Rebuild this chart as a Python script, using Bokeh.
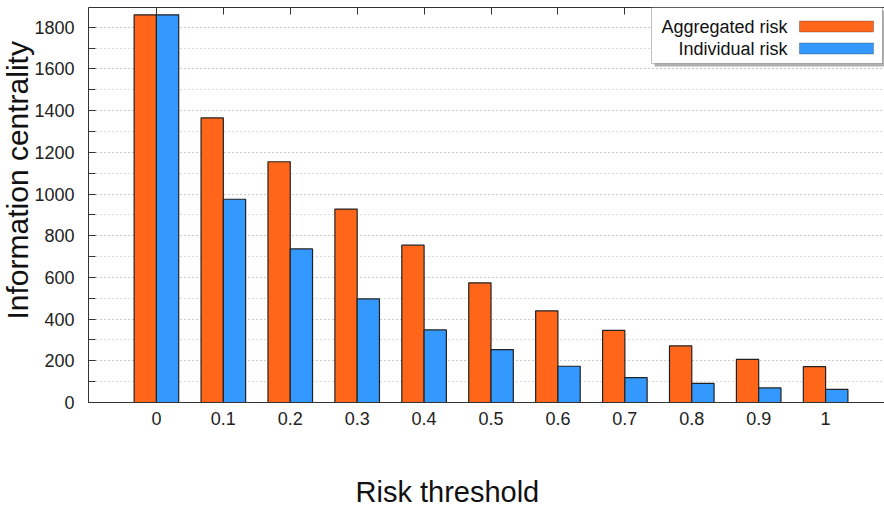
from bokeh.plotting import figure
from bokeh.models import (Range1d, LinearAxis, FixedTicker, SingleIntervalTicker,
                          NumeralTickFormatter, BoxAnnotation, Label, ColumnDataSource, Grid,
                          CustomLabelingPolicy, Title)
from bokeh.transform import dodge
from bokeh.embed import file_html
from bokeh.resources import INLINE

# ---- data ----
thresholds = [0, 0.1, 0.2, 0.3, 0.4, 0.5, 0.6, 0.7, 0.8, 0.9, 1]
aggregated_risk = [1860, 1365, 1155, 928, 755, 574, 440, 346, 272, 207, 172]
individual_risk = [1860, 975, 737, 497, 348, 254, 174, 119, 92, 70, 63]
series_names = ["Aggregated risk", "Individual risk"]
x_title = "Risk threshold"
y_title = "Information centrality"

ORANGE = "#FF661A"
BLUE = "#3399FF"
EDGE = "#222222"
FONT = "Liberation Sans"

X0, X1 = -0.1015, 1.088
Y0, Y1 = 0, 1895

source = ColumnDataSource(dict(x=thresholds, agg=aggregated_risk, ind=individual_risk))

p = figure(width=884, height=508, output_backend="svg", toolbar_location=None,
           x_range=Range1d(X0, X1), y_range=Range1d(Y0, Y1),
           x_axis_type=None, y_axis_type=None,
           min_border_left=87, min_border_right=0, min_border_top=7, min_border_bottom=106)
p.outline_line_color = None
p.background_fill_color = "white"
p.border_fill_color = "white"

bw = 0.0333
p.vbar(x=dodge('x', -bw / 2), top='agg', width=bw, bottom=0, source=source,
       fill_color=ORANGE, line_color=EDGE, line_width=1.2)
p.vbar(x=dodge('x', bw / 2), top='ind', width=bw, bottom=0, source=source,
       fill_color=BLUE, line_color=EDGE, line_width=1.2)

no_labels = CustomLabelingPolicy(code="return new Set()")

# ---- axes ----
yticker = SingleIntervalTicker(interval=200, num_minor_ticks=2)
yaxis = LinearAxis(ticker=yticker, major_tick_in=7, major_tick_out=0,
                   minor_tick_in=7, minor_tick_out=0, major_label_standoff=14,
                   axis_line_color="#333333", major_tick_line_color="#333333",
                   minor_tick_line_color="#333333",
                   major_label_text_font=FONT, major_label_text_font_size="18px",
                   major_label_text_color="#222222")
p.add_layout(yaxis, 'left')
p.add_layout(Title(text=y_title, align='left', offset=83, standoff=-4,
                   text_font=FONT, text_font_size="30px", text_font_style="normal",
                   text_color="#111111"), 'left')

xaxis = LinearAxis(ticker=FixedTicker(ticks=thresholds, minor_ticks=[]),
                   formatter=NumeralTickFormatter(format="0.[0]"),
                   major_tick_in=0, major_tick_out=0, minor_tick_in=0, minor_tick_out=0,
                   major_label_standoff=9, axis_line_color="#333333",
                   major_label_text_font=FONT, major_label_text_font_size="18px",
                   major_label_text_color="#222222")
p.add_layout(xaxis, 'below')

# invisible spacer axis that pushes the x title down to the bottom edge
spacer = LinearAxis(ticker=FixedTicker(ticks=thresholds[:1], minor_ticks=[]),
                    axis_line_color=None, major_tick_line_color=None,
                    minor_tick_line_color=None, major_tick_in=0, major_tick_out=42,
                    minor_tick_in=0, minor_tick_out=0, major_label_standoff=0,
                    major_label_policy=no_labels, major_label_text_font_size="1px")
p.add_layout(spacer, 'below')
p.add_layout(Title(text=x_title, align='left', offset=267, standoff=0,
                   text_font=FONT, text_font_size="29px", text_font_style="normal",
                   text_color="#111111"), 'below')

topaxis = LinearAxis(ticker=FixedTicker(ticks=thresholds, minor_ticks=[]),
                     major_tick_in=7, major_tick_out=0, minor_tick_in=0, minor_tick_out=0,
                     major_label_standoff=0, major_label_policy=no_labels,
                     major_label_text_font_size="1px",
                     axis_line_color="#333333", major_tick_line_color="#333333")
p.add_layout(topaxis, 'above')

grid = Grid(dimension=1, ticker=yticker,
            grid_line_color="#b8b8b8", grid_line_dash="1 3", grid_line_width=1,
            minor_grid_line_color="#b8b8b8", minor_grid_line_dash="1 3", minor_grid_line_width=1)
p.add_layout(grid)

# ---- legend ----
p.add_layout(BoxAnnotation(left=566, right=797, bottom=336, top=392,
                           left_units='screen', right_units='screen',
                           bottom_units='screen', top_units='screen',
                           fill_color="#b0b0b0", fill_alpha=1, line_color=None))
p.add_layout(BoxAnnotation(left=563, right=794, bottom=339, top=395,
                           left_units='screen', right_units='screen',
                           bottom_units='screen', top_units='screen',
                           fill_color="white", fill_alpha=1, line_color="#333333", line_width=1))
for name, color, yc in zip(series_names, [ORANGE, BLUE], [376, 354]):
    p.add_layout(BoxAnnotation(left=711, right=785, bottom=yc - 5.5, top=yc + 5.5,
                               left_units='screen', right_units='screen',
                               bottom_units='screen', top_units='screen',
                               fill_color=color, fill_alpha=1, line_color=EDGE, line_width=1))
    p.add_layout(Label(x=699, y=yc, x_units='screen', y_units='screen', text=name,
                       text_align='right', text_baseline='middle',
                       text_font=FONT, text_font_size="18px", text_color="#111111"))

open("out.html", "w").write(file_html(p, INLINE))
